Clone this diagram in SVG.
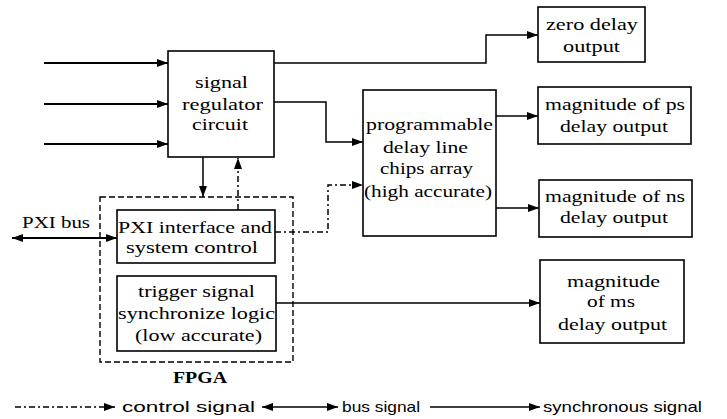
<svg xmlns="http://www.w3.org/2000/svg" width="727" height="419" viewBox="0 0 727 419">
<style>
.box{fill:#fff;stroke:#000;stroke-width:1.6}
.fpga{fill:none;stroke:#000;stroke-width:1.4;stroke-dasharray:6 3}
.t{font-size:17px;fill:#000;text-anchor:middle}
.lg{font-size:15px;fill:#000}
.ln{fill:none;stroke:#000;stroke-width:1.5}
.in{fill:none;stroke:#000;stroke-width:2.2}
.dd{fill:none;stroke:#000;stroke-width:1.5;stroke-dasharray:6 3 2 3}
</style>
<defs>
<marker id="ah" markerUnits="userSpaceOnUse" markerWidth="11" markerHeight="8" refX="11" refY="4" orient="auto-start-reverse">
<path d="M0,0 L11,4 L0,8 z" fill="#000"/>
</marker>
</defs>
<g id="connectors">
<path class="in" d="M44,63 H168" marker-end="url(#ah)"/>
<path class="in" d="M44,104 H168" marker-end="url(#ah)"/>
<path class="in" d="M44,144 H168" marker-end="url(#ah)"/>
<path class="ln" d="M274,63 H486 V35 H538" marker-end="url(#ah)"/>
<path class="ln" d="M274,102 H326 V142 H363" marker-end="url(#ah)"/>
<path class="ln" d="M496,116 H538" marker-end="url(#ah)"/>
<path class="ln" d="M496,208 H539" marker-end="url(#ah)"/>
<path class="ln" d="M276,303 H540" marker-end="url(#ah)"/>
<path class="ln" d="M203,157 V197" marker-end="url(#ah)"/>
<path class="dd" d="M238,210 V158" marker-end="url(#ah)"/>
<path class="dd" d="M275,232 H328 V185 H363" marker-end="url(#ah)"/>
<path class="in" d="M12,238 H117" marker-start="url(#ah)" marker-end="url(#ah)"/>
</g>
<g font-family="Liberation Serif, Times New Roman, serif">
<g id="fpga">
<rect class="fpga" x="100" y="197" width="193" height="165"/>
<text class="t" x="200" y="383" textLength="54" lengthAdjust="spacingAndGlyphs" font-weight="bold">FPGA</text>
</g>
<g id="signal-regulator">
<rect class="box" x="168" y="51" width="106" height="106"/>
<text class="t" x="221.5" y="88" textLength="53" lengthAdjust="spacingAndGlyphs">signal</text>
<text class="t" x="222.5" y="110" textLength="81" lengthAdjust="spacingAndGlyphs">regulator</text>
<text class="t" x="220" y="130" textLength="56" lengthAdjust="spacingAndGlyphs">circuit</text>
</g>
<g id="programmable">
<rect class="box" x="363" y="90" width="133" height="146"/>
<text class="t" x="429.5" y="130" textLength="127" lengthAdjust="spacingAndGlyphs">programmable</text>
<text class="t" x="425.5" y="153" textLength="85" lengthAdjust="spacingAndGlyphs">delay line</text>
<text class="t" x="426.5" y="174" textLength="93" lengthAdjust="spacingAndGlyphs">chips array</text>
<text class="t" x="428" y="197" textLength="128" lengthAdjust="spacingAndGlyphs">(high accurate)</text>
</g>
<g id="pxi-interface">
<rect class="box" x="117" y="210" width="158" height="53"/>
<text class="t" x="195" y="233" textLength="154" lengthAdjust="spacingAndGlyphs">PXI interface and</text>
<text class="t" x="192" y="253" textLength="132" lengthAdjust="spacingAndGlyphs">system control</text>
</g>
<g id="trigger">
<rect class="box" x="117" y="276" width="159" height="75"/>
<text class="t" x="196.5" y="297" textLength="117" lengthAdjust="spacingAndGlyphs">trigger signal</text>
<text class="t" x="196.5" y="319" textLength="157" lengthAdjust="spacingAndGlyphs">synchronize logic</text>
<text class="t" x="198.5" y="341" textLength="127" lengthAdjust="spacingAndGlyphs">(low accurate)</text>
</g>
<g id="pxi-bus">
<text class="t" x="56" y="228" textLength="68" lengthAdjust="spacingAndGlyphs">PXI bus</text>
</g>
<g id="zero-delay">
<rect class="box" x="538" y="7" width="107" height="55"/>
<text class="t" x="592" y="30" textLength="92" lengthAdjust="spacingAndGlyphs">zero delay</text>
<text class="t" x="591.5" y="52" textLength="57" lengthAdjust="spacingAndGlyphs">output</text>
</g>
<g id="ps-delay">
<rect class="box" x="538" y="87" width="153" height="57"/>
<text class="t" x="615" y="110" textLength="140" lengthAdjust="spacingAndGlyphs">magnitude of ps</text>
<text class="t" x="614" y="132" textLength="108" lengthAdjust="spacingAndGlyphs">delay output</text>
</g>
<g id="ns-delay">
<rect class="box" x="539" y="180" width="153" height="57"/>
<text class="t" x="615" y="202" textLength="140" lengthAdjust="spacingAndGlyphs">magnitude of ns</text>
<text class="t" x="614" y="223" textLength="108" lengthAdjust="spacingAndGlyphs">delay output</text>
</g>
<g id="ms-delay">
<rect class="box" x="540" y="260" width="144" height="83"/>
<text class="t" x="613.5" y="287" textLength="93" lengthAdjust="spacingAndGlyphs">magnitude</text>
<text class="t" x="611" y="307" textLength="48" lengthAdjust="spacingAndGlyphs">of ms</text>
<text class="t" x="612.5" y="330" textLength="109" lengthAdjust="spacingAndGlyphs">delay output</text>
</g>
</g>
<g id="legend" font-family="Liberation Sans, Arial, sans-serif">
<path class="dd" d="M15,407 H115" marker-end="url(#ah)"/>
<text class="lg" x="122" y="412" textLength="133" lengthAdjust="spacingAndGlyphs">control signal</text>
<path class="ln" d="M262,407 H338" marker-start="url(#ah)" marker-end="url(#ah)"/>
<text class="lg" x="342" y="412" textLength="78" lengthAdjust="spacingAndGlyphs">bus signal</text>
<path class="ln" d="M430,407 H540" marker-end="url(#ah)"/>
<text class="lg" x="543" y="412" textLength="159" lengthAdjust="spacingAndGlyphs">synchronous signal</text>
</g>
</svg>
